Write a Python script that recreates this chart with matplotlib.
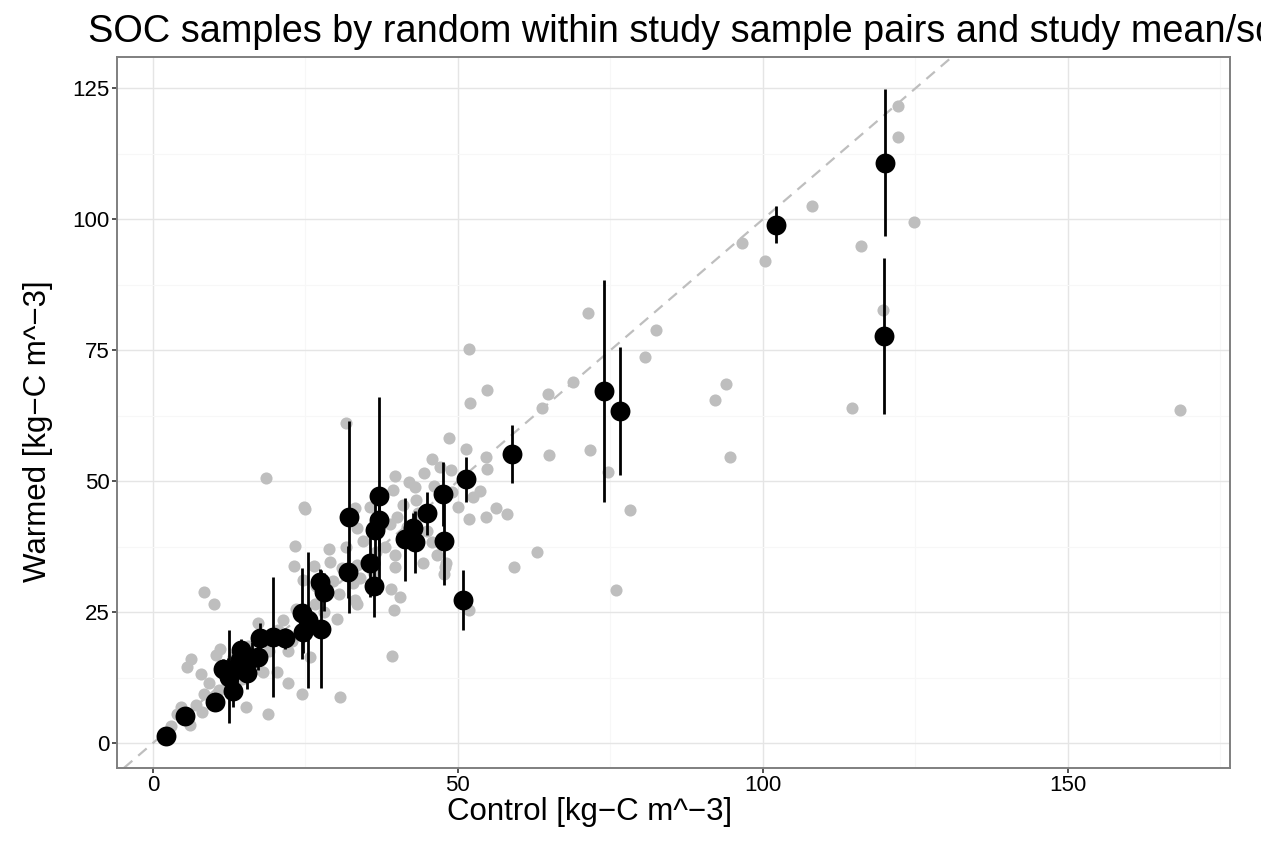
import matplotlib
matplotlib.use("Agg")
import matplotlib.pyplot as plt
from matplotlib.ticker import FixedLocator

plt.rcParams['font.family'] = ['Liberation Sans', 'DejaVu Sans']

# Individual control / warmed sample pairs (kg-C m^-3)
sample_control = [
    122.1, 122.1, 108.0, 96.6, 100.4, 116.1, 124.8, 119.7, 114.6, 168.4,
    71.4, 82.4, 80.6, 94.0, 92.1, 94.6, 68.8, 64.8, 63.8, 64.9,
    71.6, 74.6, 78.2, 75.9, 62.9, 59.2,
    54.7, 51.8, 51.9, 48.5, 51.4, 54.6, 45.8, 47.1, 48.8, 54.7,
    53.6, 50.0, 51.8, 54.6, 56.2, 58.0, 51.8,
    31.7, 18.5, 8.3, 10.0, 24.8, 24.9, 23.3, 23.1, 28.8, 31.7,
    26.4, 24.6, 26.8, 30.1, 17.3, 21.4, 26.0,
    11.0, 6.3, 5.5, 7.8, 9.2, 8.4, 3.9, 6.1, 15.2, 18.8,
    24.5, 30.6, 39.2, 22.1, 20.4, 18.1, 25.7, 22.2, 10.4,
    33.4, 33.1, 39.6, 40.5, 39.1, 39.7, 39.7, 44.2, 46.5, 47.9,
    47.8, 43.2, 42.0, 43.0, 39.7, 39.4,
    45.8, 48.0, 40.0, 38.9, 41.6, 37.5, 35.6, 33.1, 33.4, 32.8,
    36.1, 33.4,
    34.5, 38.0, 43.5, 45.0, 36.5, 41.0, 44.5, 46.0, 49.0, 52.5,
    3.0, 4.6, 7.0, 8.0, 10.8, 12.2, 13.2, 14.6, 15.6, 16.2,
    17.0, 19.0, 20.5, 22.8, 23.5, 26.5, 28.0, 29.5, 30.5, 31.0,
    29.0, 34.0,
]
sample_warmed = [
    121.7, 115.7, 102.6, 95.5, 92.1, 94.9, 99.5, 82.6, 63.9, 63.6,
    82.2, 78.9, 73.8, 68.5, 65.5, 54.6, 68.9, 66.6, 64.0, 55.0,
    56.0, 51.8, 44.5, 29.2, 36.4, 33.6,
    67.4, 75.2, 64.9, 58.3, 56.1, 54.7, 54.3, 52.8, 52.1, 52.4,
    48.1, 45.1, 42.8, 43.1, 44.8, 43.7, 25.4,
    61.2, 50.6, 28.8, 26.6, 45.1, 44.6, 37.6, 33.8, 37.1, 37.4,
    33.8, 31.1, 29.9, 23.7, 22.9, 23.5, 23.5,
    17.9, 16.0, 14.6, 13.2, 11.4, 9.3, 5.6, 3.5, 6.8, 5.6,
    9.4, 8.8, 16.7, 11.4, 13.5, 13.5, 16.5, 17.6, 16.8,
    26.5, 27.3, 25.4, 27.9, 29.5, 33.7, 35.9, 34.3, 35.9, 33.7,
    32.2, 46.4, 49.9, 48.9, 50.9, 48.3,
    38.3, 34.3, 43.2, 41.9, 41.3, 41.9, 45.1, 44.8, 41.0, 30.5,
    32.7, 34.0,
    38.5, 37.5, 44.0, 40.5, 36.5, 45.5, 51.5, 49.0, 48.0, 47.0,
    3.2, 6.8, 7.3, 5.9, 10.2, 11.5, 16.5, 12.2, 18.6, 13.8,
    19.8, 17.5, 21.5, 19.5, 25.5, 26.5, 25.0, 31.0, 28.5, 33.5,
    34.5, 31.5,
]

# Study means (control, warmed) and standard deviation of warmed
study_control = [
    2.1, 5.3, 10.2, 11.5, 12.5, 13.1, 12.3, 13.7, 14.3, 15.4,
    16.2, 17.3, 14.5, 17.5, 19.7, 21.6, 24.5, 24.6, 25.4, 27.5,
    27.4, 28.0, 32.2, 31.9, 37.0, 37.0, 36.4, 35.6, 36.3, 41.3,
    42.9, 42.7, 45.0, 47.5, 47.7, 50.9, 51.4, 58.9, 73.9, 76.6,
    102.1, 120.0, 119.8,
]
study_warmed = [
    1.4, 5.1, 7.9, 14.1, 12.7, 9.9, 13.3, 14.6, 15.8, 13.3,
    16.2, 16.5, 17.8, 20.0, 20.2, 20.0, 24.8, 21.2, 23.5, 21.8,
    30.8, 28.9, 43.2, 32.7, 47.2, 42.6, 40.7, 34.3, 30.0, 38.9,
    38.4, 41.0, 43.9, 47.6, 38.6, 27.3, 50.4, 55.2, 67.2, 63.4,
    99.0, 110.8, 77.7,
]
study_sd = [
    0.5, 1.0, 1.0, 2.0, 8.8, 3.0, 3.0, 4.0, 3.5, 3.0,
    3.0, 2.5, 2.0, 3.0, 11.5, 2.0, 8.7, 4.0, 12.9, 11.2,
    2.5, 3.6, 18.3, 5.0, 18.8, 6.0, 5.0, 6.4, 5.9, 7.9,
    6.0, 3.0, 4.1, 6.1, 8.4, 5.8, 4.3, 5.6, 21.2, 12.2,
    3.5, 14.0, 14.9,
]

x_ticks = [0, 50, 100, 150]
y_ticks = [0, 25, 50, 75, 100, 125]

W, H = 1261, 846
fig = plt.figure(figsize=(W / 100, H / 100), dpi=100)
ax = fig.add_axes([117 / W, 78 / H, 1113 / W, 711 / H])

ax.set_xlim(-5.9, 176.6)
ax.set_ylim(-4.77, 131.0)
ax.xaxis.set_major_locator(FixedLocator(x_ticks))
ax.yaxis.set_major_locator(FixedLocator(y_ticks))
ax.xaxis.set_minor_locator(FixedLocator([25, 75, 125, 175]))
ax.yaxis.set_minor_locator(FixedLocator([12.5, 37.5, 62.5, 87.5, 112.5]))

ax.set_axisbelow(True)
ax.grid(which='major', color='#E5E5E5', lw=1.0)
ax.grid(which='minor', color='#F7F7F7', lw=0.8)

for sp in ax.spines.values():
    sp.set_color('#7F7F7F')
    sp.set_linewidth(1.4)

ax.tick_params(which='major', length=3.6, width=1.2, color='#333333',
               labelsize=16, labelcolor='black', pad=1.5)
ax.tick_params(which='minor', length=0)

# grey sample pairs
ax.scatter(sample_control, sample_warmed, s=76, color='#BEBEBE',
           linewidths=0, zorder=2)

# 1:1 reference line
ax.axline((0, 0), slope=1, color='#BEBEBE', lw=1.6,
          linestyle=(0, (5, 3.5)), zorder=2.5)

# study mean +/- sd
lo = [w - s for w, s in zip(study_warmed, study_sd)]
hi = [w + s for w, s in zip(study_warmed, study_sd)]
ax.vlines(study_control, lo, hi, color='black', lw=2.0, zorder=3)
ax.scatter(study_control, study_warmed, s=205, color='black',
           linewidths=0, zorder=4)

fig.text(590 / W, 1 - 812 / H, 'Control [kg\u2212C m^\u22123]',
         fontsize=22.5, ha='center', va='center')
fig.text(38 / W, 1 - 431 / H, 'Warmed [kg\u2212C m^\u22123]',
         fontsize=22.5, ha='center', va='center', rotation=90)
fig.text(88 / W, 1 - 42 / H,
         'SOC samples by random within study sample pairs and study mean/sd',
         fontsize=27.25, ha='left', va='baseline')

fig.savefig('out.png', dpi=100)
